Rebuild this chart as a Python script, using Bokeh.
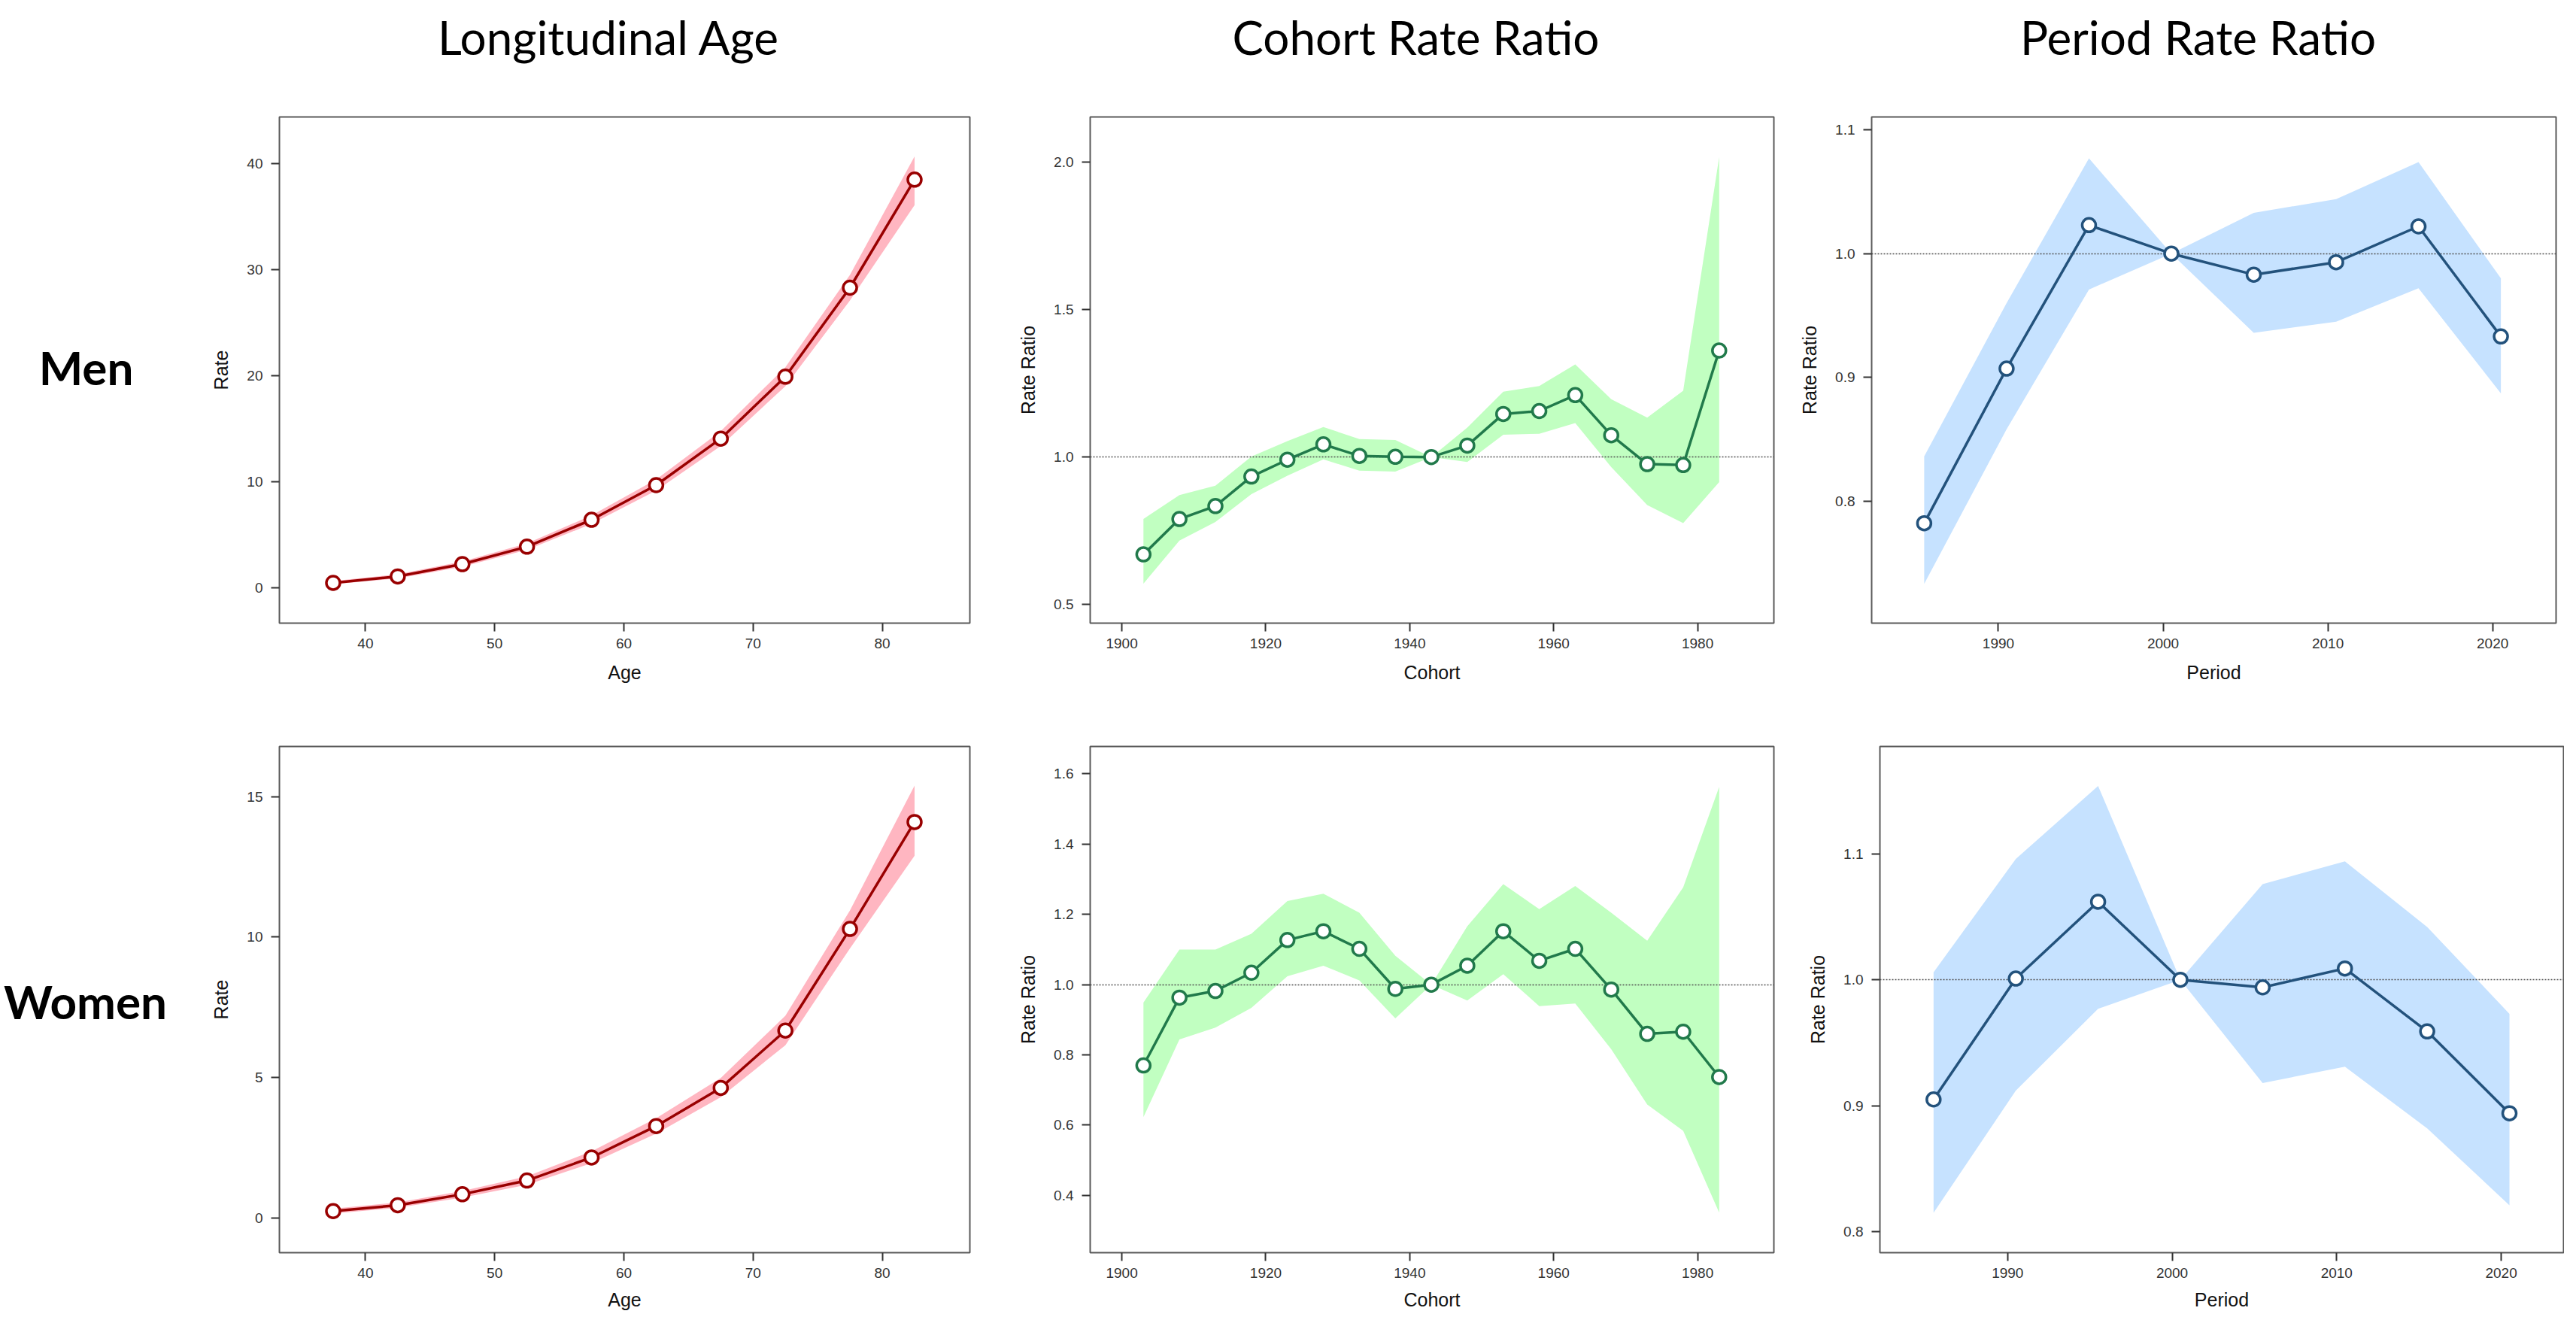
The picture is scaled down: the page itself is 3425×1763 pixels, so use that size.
from bokeh.plotting import figure
from bokeh.layouts import row, column
from bokeh.models import Range1d, Label, FixedTicker, NumeralTickFormatter
from bokeh.embed import file_html
from bokeh.resources import INLINE

# ---------------- data ----------------
ages = [37.5, 42.5, 47.5, 52.5, 57.5, 62.5, 67.5, 72.5, 77.5, 82.5]
men_age_rate = [0.43, 1.04, 2.2, 3.85, 6.39, 9.66, 14.05, 19.9, 28.3, 38.5]
men_age_lo = [0.3, 0.85, 1.95, 3.55, 6.0, 9.15, 13.35, 19.0, 27.1, 36.1]
men_age_hi = [0.6, 1.25, 2.45, 4.15, 6.8, 10.2, 14.75, 20.8, 29.5, 40.7]
women_age_rate = [0.24, 0.45, 0.84, 1.33, 2.15, 3.27, 4.63, 6.67, 10.29, 14.1]
women_age_lo = [0.15, 0.36, 0.72, 1.18, 1.95, 3.0, 4.3, 6.15, 9.6, 12.9]
women_age_hi = [0.33, 0.55, 0.96, 1.48, 2.37, 3.55, 4.98, 7.2, 10.95, 15.4]

cohorts = [1903, 1908, 1913, 1918, 1923, 1928, 1933, 1938, 1943,
           1948, 1953, 1958, 1963, 1968, 1973, 1978, 1983]
men_cohort_rr = [0.670, 0.790, 0.834, 0.934, 0.991, 1.043, 1.004, 1.001, 1.0,
                 1.039, 1.146, 1.156, 1.210, 1.074, 0.976, 0.973, 1.361]
men_cohort_lo = [0.571, 0.717, 0.780, 0.874, 0.937, 0.992, 0.954, 0.951, 1.0,
                 0.983, 1.076, 1.079, 1.115, 0.966, 0.837, 0.776, 0.915]
men_cohort_hi = [0.790, 0.871, 0.903, 1.002, 1.054, 1.102, 1.061, 1.058, 1.0,
                 1.100, 1.222, 1.241, 1.314, 1.196, 1.134, 1.225, 2.017]
women_cohort_rr = [0.770, 0.963, 0.982, 1.034, 1.127, 1.152, 1.102, 0.988, 1.0,
                   1.054, 1.152, 1.068, 1.102, 0.986, 0.860, 0.866, 0.737]
women_cohort_lo = [0.623, 0.844, 0.878, 0.934, 1.024, 1.054, 1.012, 0.904, 1.0,
                   0.955, 1.030, 0.939, 0.946, 0.816, 0.659, 0.584, 0.351]
women_cohort_hi = [0.949, 1.100, 1.100, 1.145, 1.238, 1.259, 1.205, 1.082, 1.0,
                   1.166, 1.286, 1.215, 1.281, 1.205, 1.125, 1.277, 1.563]

periods = [1985.5, 1990.5, 1995.5, 2000.5, 2005.5, 2010.5, 2015.5, 2020.5]
men_period_rr = [0.782, 0.907, 1.023, 1.0, 0.983, 0.993, 1.022, 0.933]
men_period_lo = [0.733, 0.858, 0.971, 1.0, 0.936, 0.945, 0.972, 0.887]
men_period_hi = [0.836, 0.960, 1.077, 1.0, 1.033, 1.044, 1.074, 0.980]
women_period_rr = [0.905, 1.001, 1.062, 1.0, 0.994, 1.009, 0.959, 0.894]
women_period_lo = [0.815, 0.912, 0.977, 1.0, 0.918, 0.931, 0.882, 0.821]
women_period_hi = [1.006, 1.096, 1.154, 1.0, 1.076, 1.094, 1.042, 0.973]

reference_ratio = [1.0]

row_labels = ["Men", "Women"]
col_titles = ["Longitudinal Age", "Cohort Rate Ratio", "Period Rate Ratio"]
x_axis_labels = ["Age", "Cohort", "Period"]
y_axis_labels = ["Rate", "Rate Ratio", "Rate Ratio"]

age_xticks = [40, 50, 60, 70, 80]
cohort_xticks = [1900, 1920, 1940, 1960, 1980]
period_xticks = [1990, 2000, 2010, 2020]
men_age_yticks = [0, 10, 20, 30, 40]
women_age_yticks = [0, 5, 10, 15]
men_cohort_yticks = [0.5, 1.0, 1.5, 2.0]
women_cohort_yticks = [0.4, 0.6, 0.8, 1.0, 1.2, 1.4, 1.6]
period_yticks = [0.8, 0.9, 1.0, 1.1]

# ---------------- styles ----------------
AGE_LINE, AGE_BAND = "#990000", "#FFB6C1"
COH_LINE, COH_BAND = "#217A4B", "#C1FFC1"
PER_LINE, PER_BAND = "#23527C", "#C6E2FF"
TICK_FONT = "Liberation Sans"
HEAD_FONT = "Lato"


def panel(x, y, lo, hi, line_c, band_c, xr, yr, xt, yt, ratio_fmt,
          xlabel, ylabel, w, h, mbl, mbr, mbt, mbb, ref, xlab_standoff):
    p = figure(width=w, height=h, x_range=Range1d(*xr), y_range=Range1d(*yr),
               toolbar_location=None, output_backend="svg",
               min_border_left=mbl, min_border_right=mbr,
               min_border_top=mbt, min_border_bottom=mbb)
    p.xgrid.visible = False
    p.ygrid.visible = False
    p.outline_line_color = "#5a5a5a"
    p.outline_line_width = 2
    p.background_fill_color = "white"
    p.border_fill_color = "white"

    p.varea(x=x, y1=lo, y2=hi, fill_color=band_c, fill_alpha=1.0)
    if ref:
        p.hspan(y=reference_ratio, line_color="#505050", line_width=1.6,
                line_dash="2 2")
    p.line(x, y, line_color=line_c, line_width=3.5)
    p.scatter(x, y, size=18, fill_color="white", line_color=line_c,
              line_width=3.5)

    p.xaxis.ticker = FixedTicker(ticks=xt, minor_ticks=[])
    p.yaxis.ticker = FixedTicker(ticks=yt, minor_ticks=[])
    if ratio_fmt:
        p.yaxis.formatter = NumeralTickFormatter(format="0.0")
    p.xaxis.axis_label = xlabel
    p.yaxis.axis_label = ylabel
    for ax in (p.xaxis[0], p.yaxis[0]):
        ax.axis_line_color = None
        ax.major_tick_out = 11
        ax.major_tick_in = 0
        ax.major_tick_line_color = "#333333"
        ax.major_tick_line_width = 2
        ax.major_label_text_font = TICK_FONT
        ax.major_label_text_font_size = "19px"
        ax.major_label_text_color = "#333333"
        ax.axis_label_text_font = TICK_FONT
        ax.axis_label_text_font_size = "25px"
        ax.axis_label_text_font_style = "normal"
        ax.axis_label_text_color = "#111111"
    p.xaxis.major_label_standoff = 9
    p.xaxis.axis_label_standoff = xlab_standoff
    p.yaxis.major_label_standoff = 11
    p.yaxis.axis_label_standoff = 17
    return p


def text_fig(w, h, xr, yr):
    f = figure(width=w, height=h, x_range=Range1d(*xr), y_range=Range1d(*yr),
               toolbar_location=None, output_backend="svg", min_border=0,
               x_axis_type=None, y_axis_type=None)
    f.outline_line_color = None
    f.xgrid.visible = False
    f.ygrid.visible = False
    return f


# header with column titles (page-pixel coordinates, y downwards)
header = text_fig(3409, 100, (8, 3417), (108, 8))
for txt, cx in zip(col_titles, [817, 1890, 2930]):
    header.add_layout(Label(x=cx, y=56, text=txt, text_align="center",
                            text_baseline="alphabetic", text_font=HEAD_FONT,
                            text_font_size="62px", text_color="black"))

# row 1 : Men
lab1 = text_fig(242, 837, (8, 250), (945, 108))
lab1.add_layout(Label(x=122, y=522, text=row_labels[0], text_align="center",
                      text_baseline="alphabetic", text_font=HEAD_FONT,
                      text_font_style="bold", text_font_size="62px",
                      text_color="black"))
age1 = panel(ages, men_age_rate, men_age_lo, men_age_hi, AGE_LINE, AGE_BAND,
             (33.34, 86.78), (-3.37, 44.42), age_xticks, men_age_yticks, False,
             x_axis_labels[0], y_axis_labels[0], 1080, 837, 129, 33, 47, 109, False, 15)
coh1 = panel(cohorts, men_cohort_rr, men_cohort_lo, men_cohort_hi, COH_LINE, COH_BAND,
             (1895.6, 1990.6), (0.437, 2.153), cohort_xticks, men_cohort_yticks, True,
             x_axis_labels[1], y_axis_labels[1], 1066, 837, 127, 30, 55, 109, True, 15)
per1 = panel(periods, men_period_rr, men_period_lo, men_period_hi, PER_LINE, PER_BAND,
             (1982.31, 2023.85), (0.7012, 1.1105), period_xticks, period_yticks, True,
             x_axis_labels[2], y_axis_labels[2], 1021, 837, 100, 11, 55, 109, True, 15)

# row 2 : Women
lab2 = text_fig(242, 810, (8, 250), (1755, 945))
lab2.add_layout(Label(x=121, y=1353, text=row_labels[1], text_align="center",
                      text_baseline="alphabetic", text_font=HEAD_FONT,
                      text_font_style="bold", text_font_size="62px",
                      text_color="black"))
age2 = panel(ages, women_age_rate, women_age_lo, women_age_hi, AGE_LINE, AGE_BAND,
             (33.34, 86.78), (-1.24, 16.79), age_xticks, women_age_yticks, False,
             x_axis_labels[0], y_axis_labels[0], 1080, 810, 129, 33, 48, 82, False, 12)
coh2 = panel(cohorts, women_cohort_rr, women_cohort_lo, women_cohort_hi, COH_LINE, COH_BAND,
             (1895.6, 1990.6), (0.237, 1.678), cohort_xticks, women_cohort_yticks, True,
             x_axis_labels[1], y_axis_labels[1], 1076, 810, 127, 40, 55, 82, True, 12)
per2 = panel(periods, women_period_rr, women_period_lo, women_period_hi, PER_LINE, PER_BAND,
             (1982.24, 2023.79), (0.7833, 1.1853), period_xticks, period_yticks, True,
             x_axis_labels[2], y_axis_labels[2], 1011, 810, 101, 1, 55, 82, True, 12)

layout = column(header, row(lab1, age1, coh1, per1), row(lab2, age2, coh2, per2))

open("out.html", "w").write(file_html(layout, INLINE))
